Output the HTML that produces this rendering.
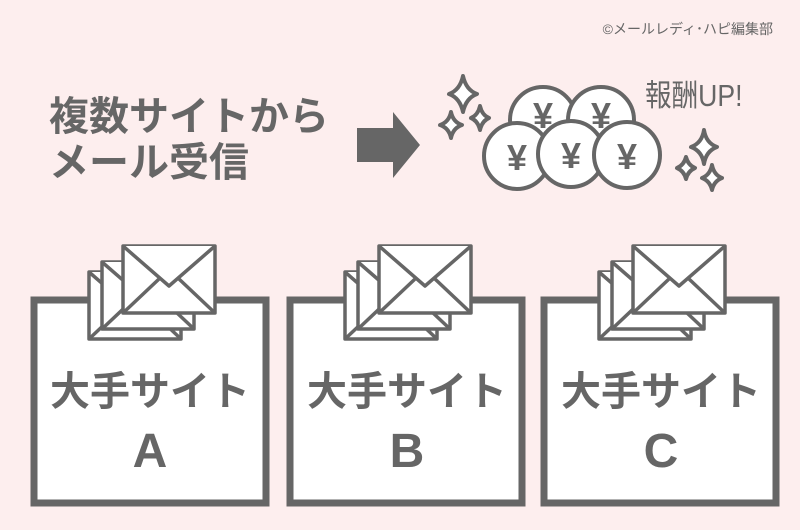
<!DOCTYPE html>
<html><head><meta charset="utf-8"><style>
body{margin:0;background:#fdeeee;}
svg{display:block}
text{font-family:"Liberation Sans","Noto Sans CJK JP",sans-serif;fill:#666;}
</style></head><body>
<svg width="800" height="530" viewBox="0 0 800 530" xmlns="http://www.w3.org/2000/svg">
<rect width="800" height="530" fill="#fdeeee"/>
<text x="773" y="34" font-size="14" text-anchor="end" fill="#555">©メールレディ･ハピ編集部</text>
<text x="49" y="130" font-size="40" font-weight="bold">複数サイトから</text>
<text x="49" y="176" font-size="40" font-weight="bold">メール受信</text>
<polygon points="357,128 393,128 393,112 420,145 393,178 393,162 357,162" fill="#666"/>
<g fill="#fff" stroke="#666" stroke-width="4" stroke-linejoin="round">
<path d="M463,76 Q466,90 477,94 Q466,98 463,112 Q460,98 449,94 Q460,90 463,76Z"/>
<path d="M451,112 Q453,122 462,125 Q453,128 451,138 Q449,128 440,125 Q449,122 451,112Z"/>
<path d="M480,106 Q482,115 489,118 Q482,121 480,130 Q478,121 471,118 Q478,115 480,106Z"/>
<path d="M704,130 Q706,143 717,147 Q706,151 704,164 Q702,151 691,147 Q702,143 704,130Z"/>
<path d="M686,157 Q688,165 695,168 Q688,171 686,179 Q684,171 677,168 Q684,165 686,157Z"/>
<path d="M712,165 Q714,175 722,178 Q714,181 712,190 Q710,181 702,178 Q710,175 712,165Z"/>
<circle cx="543" cy="120" r="33"/><circle cx="601" cy="120" r="33"/>
<circle cx="517" cy="156" r="33"/><circle cx="571" cy="154" r="33"/><circle cx="627" cy="155" r="33"/>
</g>
<g font-size="36" font-weight="bold" text-anchor="middle">
<text x="543" y="128">¥</text><text x="601" y="128">¥</text>
<text x="517" y="170">¥</text><text x="571" y="168">¥</text><text x="627" y="169">¥</text>
</g>
<text x="645" y="106" font-size="28" transform="translate(645 106) scale(0.95 1.1) translate(-645 -106)">報酬UP!</text>
<g id="boxA">
<rect x="34" y="300" width="232" height="203" fill="#fff" stroke="#666" stroke-width="7"/>
<g fill="#fff" stroke="#666" stroke-width="3.5" stroke-linejoin="round">
<rect x="89" y="272" width="92" height="67"/><path d="M89,272 L135,312 L181,272 M89,339 L125,305 M181,339 L145,305"/>
<rect x="102" y="262" width="92" height="67"/><path d="M102,262 L148,302 L194,262 M102,329 L138,295 M194,329 L158,295"/>
<rect x="123" y="246" width="92" height="67"/><path d="M123,246 L169,286 L215,246 M123,313 L159,279 M215,313 L179,279"/>
</g>
</g>
<use href="#boxA" x="256"/>
<use href="#boxA" x="510"/>
<g font-size="40" font-weight="bold" text-anchor="middle">
<text x="150" y="405">大手サイト</text><text x="407" y="405">大手サイト</text><text x="661" y="405">大手サイト</text>
<text x="150" y="467" font-size="48">A</text><text x="407" y="467" font-size="48">B</text><text x="661" y="467" font-size="48">C</text>
</g>
</svg>
</body></html>
